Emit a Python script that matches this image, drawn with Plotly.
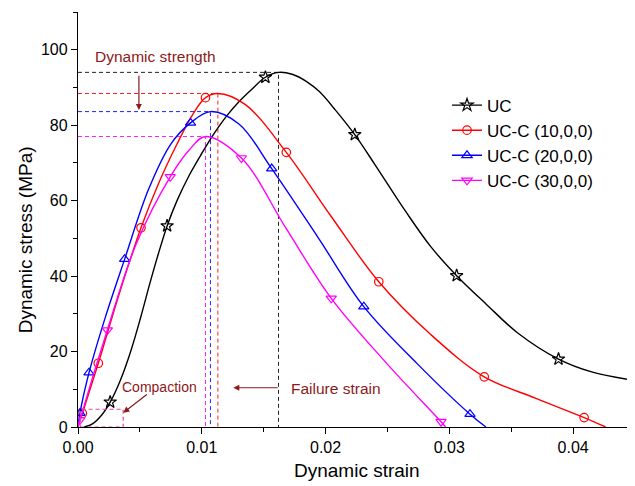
import plotly.graph_objects as go

# ---------------- data ----------------
series_names = ["UC", "UC-C (10,0,0)", "UC-C (20,0,0)", "UC-C (30,0,0)"]
series_colors = ["#000000", "#FF0000", "#0000FF", "#FF00FF"]
series_symbols = ["star-open", "circle-open", "triangle-up-open", "triangle-down-open"]
series_marker_sizes = [9.5, 8.5, 9, 9]

# smooth curve samples
uc_strain = [0.0005, 0.0012, 0.0019, 0.0026, 0.0034, 0.0043, 0.0051, 0.0058, 0.0065, 0.0072,
             0.0080, 0.0090, 0.0100, 0.0110, 0.0120, 0.0130, 0.0140, 0.01514, 0.0162, 0.0173,
             0.0185, 0.0195, 0.0208, 0.02236, 0.0240, 0.0265, 0.0285, 0.03059, 0.0330, 0.0355,
             0.03882, 0.0415, 0.0450]
uc_stress = [0.0, 0.9, 3.1, 6.6, 12.2, 20.5, 29.5, 38.0, 46.0, 53.3,
             60.0, 66.8, 72.5, 77.8, 82.4, 86.2, 89.4, 92.7, 94.0, 93.5,
             91.5, 88.9, 84.0, 77.5, 69.5, 57.0, 47.8, 40.1, 32.5, 25.0,
             18.0, 14.6, 12.3]

c10_strain = [0.0, 0.00035, 0.00164, 0.0033, 0.00509, 0.0065, 0.0080, 0.0093, 0.0103, 0.0113,
              0.0135, 0.01683, 0.0205, 0.0243, 0.0285, 0.03282, 0.0370, 0.04089, 0.04263]
c10_stress = [0.0, 3.6, 16.9, 35.0, 52.8, 64.5, 75.0, 83.0, 87.3, 88.4,
              85.5, 72.8, 55.6, 38.5, 24.5, 13.3, 7.6, 2.5, 0.0]

c20_strain = [0.0, 0.00016, 0.00089, 0.0022, 0.00377, 0.0057, 0.0075, 0.00909, 0.0107,
              0.0130, 0.01565, 0.0194, 0.02309, 0.0274, 0.03167, 0.03296]
c20_stress = [0.0, 3.7, 14.4, 29.0, 44.5, 63.0, 75.0, 80.6, 83.6,
              80.3, 68.5, 50.2, 31.9, 16.8, 3.4, 0.0]

c30_strain = [0.0, 0.00016, 0.00237, 0.0047, 0.00745, 0.0090, 0.0103, 0.0132, 0.0168,
              0.02046, 0.0249, 0.02933, 0.0297]
c30_stress = [0.0, 1.9, 25.7, 48.5, 66.3, 73.5, 77.0, 71.3, 52.7,
              34.1, 17.0, 1.4, 0.0]

# marker positions
uc_mk_strain = [0.0026, 0.0072, 0.01514, 0.02236, 0.03059, 0.03882]
uc_mk_stress = [6.6, 53.3, 92.7, 77.5, 40.1, 18.0]
c10_mk_strain = [0.00035, 0.00164, 0.00509, 0.0103, 0.01683, 0.0243, 0.03282, 0.04089]
c10_mk_stress = [3.6, 16.9, 52.8, 87.3, 72.8, 38.5, 13.3, 2.5]
c20_mk_strain = [0.00016, 0.00089, 0.00377, 0.00909, 0.01565, 0.02309, 0.03167]
c20_mk_stress = [3.7, 14.4, 44.5, 80.6, 68.5, 31.9, 3.4]
c30_mk_strain = [0.00016, 0.00237, 0.00745, 0.0132, 0.02046, 0.02933]
c30_mk_stress = [1.9, 25.7, 66.3, 71.3, 34.1, 1.4]

# dynamic strength (peak stress) and failure strain of each specimen
peak_strain = [0.0162, 0.0113, 0.0107, 0.0103]
peak_stress = [94.0, 88.4, 83.6, 77.0]

# compaction region box [strain0, strain1, stress0, stress1]
compaction_box = [0.0002, 0.00365, 0.0, 4.7]

x_ticks = [0.00, 0.01, 0.02, 0.03, 0.04]
y_ticks = [0, 20, 40, 60, 80, 100]

curves = [(uc_strain, uc_stress), (c10_strain, c10_stress),
          (c20_strain, c20_stress), (c30_strain, c30_stress)]
marks = [(uc_mk_strain, uc_mk_stress), (c10_mk_strain, c10_mk_stress),
         (c20_mk_strain, c20_mk_stress), (c30_mk_strain, c30_mk_stress)]

FONT = "Arial, 'Liberation Sans', sans-serif"
ANN = "#8B1A1A"
guide_colors = ["#222222", "#FF2020", "#2020FF", "#FF20FF"]

fig = go.Figure()

# dashed guide lines (beneath curves)
for ps, pst, gc in zip(peak_strain, peak_stress, guide_colors):
    fig.add_trace(go.Scatter(x=[0, ps, ps], y=[pst, pst, 0], mode="lines",
                             line=dict(color=gc, width=1, dash="4px,3px"),
                             showlegend=False, hoverinfo="skip"))

for (cx, cy), (mx, my), name, col, sym, ms in zip(curves, marks, series_names,
                                                  series_colors, series_symbols,
                                                  series_marker_sizes):
    fig.add_trace(go.Scatter(x=cx, y=cy, mode="lines",
                             line=dict(color=col, width=1.4, shape="spline", smoothing=1.0),
                             showlegend=False, hoverinfo="skip"))
    fig.add_trace(go.Scatter(x=mx, y=my, mode="markers",
                             marker=dict(symbol=sym, size=ms, color=col,
                                         line=dict(color=col, width=1.2)),
                             showlegend=False))
    fig.add_trace(go.Scatter(x=[None], y=[None], mode="lines+markers", name=name,
                             line=dict(color=col, width=1.4),
                             marker=dict(symbol=sym, size=ms, color=col,
                                         line=dict(color=col, width=1.2))))

# compaction box
fig.add_shape(type="rect", xref="x", yref="y",
              x0=compaction_box[0], x1=compaction_box[1],
              y0=compaction_box[2], y1=compaction_box[3],
              line=dict(color="#EE4499", width=1.2, dash="4px,3px"))

annotations = [
    dict(x=0.00118, y=98.2, xref="x", yref="y", text="Dynamic strength", showarrow=False,
         xanchor="left", yanchor="middle", font=dict(family=FONT, size=15.5, color=ANN)),
    dict(x=0.00492, y=84.0, ax=0.00492, ay=93.5, xref="x", yref="y", axref="x", ayref="y",
         text="", showarrow=True, arrowhead=2, arrowsize=1, arrowwidth=1.2, arrowcolor=ANN),
    dict(x=0.00662, y=10.7, xref="x", yref="y", text="Compaction", showarrow=False,
         xanchor="center", yanchor="middle", font=dict(family=FONT, size=14, color=ANN)),
    dict(x=0.00366, y=3.8, ax=0.00568, ay=8.9, xref="x", yref="y", axref="x", ayref="y",
         text="", showarrow=True, arrowhead=2, arrowsize=1, arrowwidth=1.2, arrowcolor=ANN),
    dict(x=0.01707, y=10.3, xref="x", yref="y", text="Failure strain", showarrow=False,
         xanchor="left", yanchor="middle", font=dict(family=FONT, size=15.5, color=ANN)),
    dict(x=0.01255, y=10.4, ax=0.01626, ay=10.4, xref="x", yref="y", axref="x", ayref="y",
         text="", showarrow=True, arrowhead=2, arrowsize=1, arrowwidth=1.2, arrowcolor=ANN),
    dict(x=-0.095, y=0.45, xref="paper", yref="paper", text="Dynamic stress (MPa)",
         showarrow=False, textangle=-90, xanchor="center", yanchor="middle",
         font=dict(family=FONT, size=19, color="black")),
    dict(x=0.5, y=-0.105, xref="paper", yref="paper", text="Dynamic strain",
         showarrow=False, xanchor="center", yanchor="middle",
         font=dict(family=FONT, size=19, color="black")),
]

# The page body adds an 8px offset, so the figure is 8px smaller than the window
fig.update_layout(
    width=627, height=478,
    margin=dict(l=70, r=0, t=4, b=59),
    paper_bgcolor="white", plot_bgcolor="white",
    font=dict(family=FONT, size=16, color="black"),
    showlegend=True,
    legend=dict(x=0.6625, y=0.818, xanchor="left", yanchor="top",
                bgcolor="rgba(0,0,0,0)", borderwidth=0, tracegroupgap=0,
                font=dict(family=FONT, size=17, color="black")),
    annotations=annotations,
    xaxis=dict(range=[0, 0.045], tickvals=x_ticks, tickformat=".2f",
               ticks="outside", ticklen=6, tickwidth=1.2, tickcolor="black",
               minor=dict(dtick=0.005, ticks="outside", ticklen=3.5, tickwidth=1.2, tickcolor="black"),
               showline=True, linecolor="black", linewidth=1.3,
               showgrid=False, zeroline=False,
               tickfont=dict(family=FONT, size=16)),
    yaxis=dict(range=[0, 110], tickvals=y_ticks,
               ticks="outside", ticklen=6, tickwidth=1.2, tickcolor="black",
               minor=dict(dtick=10, ticks="outside", ticklen=3.5, tickwidth=1.2, tickcolor="black"),
               showline=True, linecolor="black", linewidth=1.3,
               showgrid=False, zeroline=False,
               tickfont=dict(family=FONT, size=16)),
)

fig.write_html("out.html")
